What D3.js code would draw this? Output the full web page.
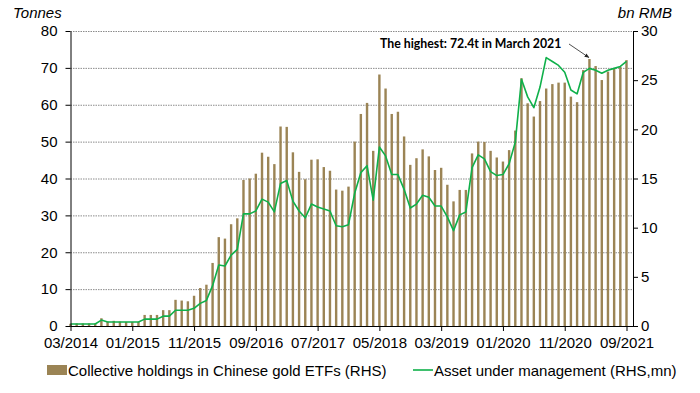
<!DOCTYPE html>
<html>
<head>
<meta charset="utf-8">
<script src="https://cdn.jsdelivr.net/npm/d3@7"></script>
<style>
  body { margin: 0; background: #fff; }
  text { font-family: "Liberation Sans", Arial, sans-serif; }
</style>
</head>
<body>
<script>
// x tick labels, one every 10 months starting 03/2014
const tickLabels = ["03/2014", "01/2015", "11/2015", "09/2016", "07/2017",
  "05/2018", "03/2019", "01/2020", "11/2020", "09/2021"];

// collective holdings in Chinese gold ETFs, tonnes (monthly, 03/2014 - 09/2021)
const holdings = [
  0.6, 0.7, 0.7, 0.7, 0.7, 2.1, 1.2, 1.4, 1.2, 1.1,
  1.1, 1.1, 3.0, 3.0, 3.0, 4.3, 4.3, 7.1, 6.9, 6.7,
  8.2, 10.3, 11.2, 17.1, 24.1, 23.7, 27.6, 29.2, 39.6, 40.0,
  41.3, 47.0, 45.9, 43.9, 54.1, 54.0, 47.1, 41.8, 39.8, 45.1,
  45.2, 43.1, 42.1, 37.0, 36.7, 37.8, 50.0, 57.5, 60.5, 47.5,
  68.2, 64.4, 57.5, 58.1, 51.4, 43.7, 45.5, 47.9, 46.0, 42.3,
  42.9, 38.3, 33.8, 36.9, 36.9, 46.8, 50.0, 49.9, 47.5, 45.7,
  44.6, 47.7, 53.0, 67.2, 60.4, 56.8, 61.0, 64.4, 65.6, 66.0,
  66.0, 62.2, 60.7, 69.4, 72.4, 70.5, 66.7, 69.0, 69.9, 70.3,
  72.1
];

// asset under management, bn RMB
const aum = [
  0.2, 0.2, 0.2, 0.2, 0.2, 0.6, 0.4, 0.4, 0.4, 0.4,
  0.4, 0.4, 0.7, 0.7, 0.7, 1.0, 1.0, 1.6, 1.6, 1.6,
  1.8, 2.3, 2.6, 4.1, 6.2, 6.1, 7.2, 7.8, 11.4, 11.4,
  11.7, 12.9, 12.6, 11.6, 14.5, 14.8, 12.7, 11.7, 11.0, 12.4,
  12.1, 11.9, 11.7, 10.2, 10.1, 10.3, 13.5, 15.6, 16.3, 12.8,
  18.2, 17.3, 15.4, 15.4, 13.9, 12.0, 12.4, 13.3, 13.1, 12.2,
  12.2, 11.1, 9.7, 11.3, 11.6, 16.1, 17.4, 17.0, 15.7, 15.3,
  15.4, 16.5, 18.7, 25.1, 23.3, 22.2, 24.3, 27.3, 26.9, 26.5,
  25.8, 24.0, 23.6, 25.8, 26.2, 26.0, 25.7, 26.0, 26.2, 26.4,
  26.9
];

const leftTicks = [0, 10, 20, 30, 40, 50, 60, 70, 80];
const rightTicks = [0, 5, 10, 15, 20, 25, 30];

let width = 700;
let height = 393;
let plotLeft = 70.5;
let plotRight = 633;
let plotTop = 31;
let plotBottom = 326;
let barColor = "#9b8455";
let lineColor = "#0fb04a";

let svg = d3.select("body")
  .append("svg")
  .attr("width", width)
  .attr("height", height);

let xScale = d3.scaleLinear()
  .domain([0, holdings.length - 1])
  .range([plotLeft, 626.5]);

let yLeft = d3.scaleLinear()
  .domain([0, 80])
  .range([plotBottom, plotTop]);

let yRight = d3.scaleLinear()
  .domain([0, 30])
  .range([plotBottom, plotTop]);

// gridlines
svg.append("g")
  .selectAll("line")
  .data(leftTicks.slice(1))
  .join("line")
  .attr("x1", plotLeft)
  .attr("x2", plotRight)
  .attr("y1", (d) => yLeft(d) + 0.5)
  .attr("y2", (d) => yLeft(d) + 0.5)
  .attr("stroke", "#8c8c8c")
  .attr("stroke-width", 1)
  .attr("stroke-dasharray", "1.5,1");

// bars
svg.append("g")
  .selectAll("rect")
  .data(holdings)
  .join("rect")
  .attr("x", (d, i) => xScale(i) - 1.2)
  .attr("width", 2.4)
  .attr("y", (d) => yLeft(d))
  .attr("height", (d) => yLeft(0) - yLeft(d))
  .attr("fill", barColor);

// line
let line = d3.line()
  .x((d, i) => xScale(i))
  .y((d) => yRight(d));

svg.append("path")
  .datum(aum)
  .attr("d", line)
  .attr("fill", "none")
  .attr("stroke", lineColor)
  .attr("stroke-width", 1.6)
  .attr("stroke-linejoin", "round");

// axes
let yAxisLeft = d3.axisLeft(yLeft)
  .tickValues(leftTicks)
  .tickSize(5)
  .tickSizeOuter(0)
  .tickPadding(8);

let gLeft = svg.append("g")
  .attr("transform", "translate(" + plotLeft + ",0)")
  .call(yAxisLeft);

let yAxisRight = d3.axisRight(yRight)
  .tickValues(rightTicks)
  .tickSize(5)
  .tickSizeOuter(0)
  .tickPadding(3);

let gRight = svg.append("g")
  .attr("transform", "translate(" + plotRight + ",0)")
  .call(yAxisRight);

let xAxis = d3.axisBottom(xScale)
  .tickValues(tickLabels.map((d, i) => i * 10))
  .tickFormat((d, i) => tickLabels[i])
  .tickSize(5)
  .tickSizeOuter(0)
  .tickPadding(6);

let gx = svg.append("g")
  .attr("transform", "translate(0," + plotBottom + ")")
  .call(xAxis);
gx.select(".domain").remove();

svg.append("line")
  .attr("x1", plotLeft)
  .attr("x2", plotRight)
  .attr("y1", plotBottom + 0.5)
  .attr("y2", plotBottom + 0.5)
  .attr("stroke", "#000");

[gLeft, gRight, gx].forEach((g) => {
  g.selectAll("text")
    .attr("font-family", "Liberation Sans, Arial, sans-serif")
    .attr("font-size", 15)
    .attr("fill", "#000");
  g.selectAll("line, path").attr("stroke", "#000");
});

// axis titles
svg.append("text")
  .attr("x", 13)
  .attr("y", 18)
  .attr("font-size", 15)
  .attr("font-style", "italic")
  .text("Tonnes");

svg.append("text")
  .attr("x", 672)
  .attr("y", 18)
  .attr("text-anchor", "end")
  .attr("font-size", 15)
  .attr("font-style", "italic")
  .text("bn RMB");

// annotation
svg.append("defs")
  .append("marker")
  .attr("id", "arrow")
  .attr("viewBox", "0 0 10 10")
  .attr("refX", 9)
  .attr("refY", 5)
  .attr("markerWidth", 6)
  .attr("markerHeight", 6)
  .attr("orient", "auto")
  .append("path")
  .attr("d", "M0,1 L10,5 L0,9 Z")
  .attr("fill", "#222");

svg.append("text")
  .attr("x", 380)
  .attr("y", 48)
  .attr("font-weight", "bold")
  .attr("font-size", 12.3)
  .style("font-family", "Lato, sans-serif")
  .text("The highest: 72.4t in March 2021");

svg.append("line")
  .attr("x1", 569)
  .attr("y1", 44)
  .attr("x2", xScale(84) - 0.5)
  .attr("y2", yLeft(holdings[84]) - 1.5)
  .attr("stroke", "#222")
  .attr("stroke-width", 0.8)
  .attr("marker-end", "url(#arrow)");

// legend
let legend = svg.append("g");

legend.append("rect")
  .attr("x", 47)
  .attr("y", 365)
  .attr("width", 20)
  .attr("height", 10)
  .attr("fill", barColor);

legend.append("text")
  .attr("x", 68)
  .attr("y", 376)
  .attr("font-size", 15)
  .text("Collective holdings in Chinese gold ETFs (RHS)");

legend.append("line")
  .attr("x1", 413)
  .attr("x2", 433)
  .attr("y1", 370)
  .attr("y2", 370)
  .attr("stroke", lineColor)
  .attr("stroke-width", 1.6);

legend.append("text")
  .attr("x", 434)
  .attr("y", 376)
  .attr("font-size", 15)
  .text("Asset under management (RHS,mn)");
</script>
</body>
</html>
